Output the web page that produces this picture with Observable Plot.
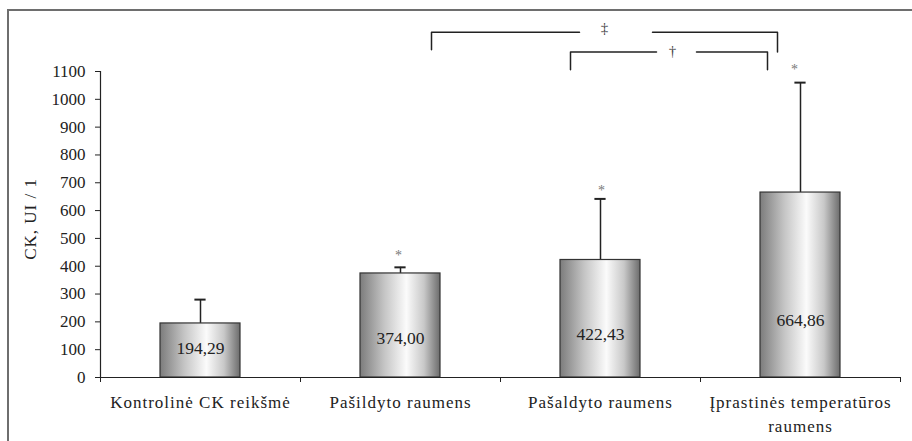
<!DOCTYPE html>
<html>
<head>
<meta charset="utf-8">
<script src="https://cdn.jsdelivr.net/npm/d3@7"></script>
<script src="https://cdn.jsdelivr.net/npm/@observablehq/plot@0.6"></script>
<style>
  html, body { margin: 0; padding: 0; background: #fff; }
  #wrap { position: relative; width: 912px; height: 441px; overflow: hidden; }
  #frame { position: absolute; left: 7px; top: 9px; width: 2000px; height: 2000px;
           border-left: 2px solid #6e6e6e; border-top: 2px solid #6e6e6e; pointer-events: none; }
</style>
</head>
<body>
<div id="wrap"><div id="frame"></div></div>
<script>
// ---- data ----
const categories = ["Kontrolinė CK reikšmė", "Pašildyto raumens", "Pašaldyto raumens", "Įprastinės temperatūros\nraumens"];
const means = [194.29, 374.00, 422.43, 664.86];
const errorTops = [280, 396, 642, 1060];
const valueLabels = ["194,29", "374,00", "422,43", "664,86"];
const valueLabelY = [106, 139, 154, 205];
const asteriskY = [null, 438, 671, 1106];
const asteriskDx = [0, -0.01, 0.005, -0.03];
const yTicks = [0, 100, 200, 300, 400, 500, 600, 700, 800, 900, 1000, 1100];
const xBoundaries = [0, 1, 2, 3, 4];
const yLabel = "CK, UI / 1";
// significance brackets (positions in chart units)
const bracketSymbols = ["‡", "†"];
const bracketX1 = [1.655, 2.35];
const bracketX2 = [3.385, 3.335];
const bracketY = [1241, 1170];
const bracketDropLeft = [1178, 1106];
const bracketDropRight = [1170, 1106];
const bracketGapStart = [2.395, 2.78];
const bracketGapEnd = [2.76, 2.98];
const bracketSymbolX = [2.52, 2.86];
const bracketSymbolY = [1257, 1172];

// ---- build tables ----
const bars = categories.map((c, i) => ({
  i, c, mean: means[i], top: errorTops[i], label: valueLabels[i], ly: valueLabelY[i],
  ay: asteriskY[i], adx: asteriskDx[i]
}));
const bracketPaths = [];
bracketSymbols.forEach((s, k) => {
  bracketPaths.push(
    {z: k + "L", x: bracketX1[k], y: bracketDropLeft[k]},
    {z: k + "L", x: bracketX1[k], y: bracketY[k]},
    {z: k + "L", x: bracketGapStart[k], y: bracketY[k]},
    {z: k + "R", x: bracketGapEnd[k], y: bracketY[k]},
    {z: k + "R", x: bracketX2[k], y: bracketY[k]},
    {z: k + "R", x: bracketX2[k], y: bracketDropRight[k]}
  );
});
const bracketLabels = bracketSymbols.map((s, k) => ({s, x: bracketSymbolX[k], y: bracketSymbolY[k]}));

const ink = "#222";
const serif = "Liberation Serif";
const capHalf = 0.028;

const chart = Plot.plot({
  width: 912,
  height: 441,
  marginLeft: 100,
  marginRight: 12,
  marginTop: 71,
  marginBottom: 64,
  style: {fontSize: "17px", color: ink, background: "transparent"},
  x: {domain: [0, 4], ticks: xBoundaries, tickSize: 5, tickFormat: () => "", label: null},
  y: {domain: [0, 1100], ticks: yTicks, tickSize: 5, tickPadding: 10, tickFormat: d => String(d), label: null},
  marks: [
    Plot.ruleX([0], {y1: 0, y2: 1100, stroke: ink, strokeWidth: 1.2}),
    Plot.ruleX(bars, {x: d => d.i + 0.5, y1: "mean", y2: "top", stroke: ink, strokeWidth: 1.5}),
    Plot.ruleY(bars, {y: "top", x1: d => d.i + 0.5 - capHalf, x2: d => d.i + 0.5 + capHalf, stroke: ink, strokeWidth: 2}),
    Plot.rectY(bars, {x1: d => d.i + 0.3, x2: d => d.i + 0.7, y1: 0, y2: "mean", fill: "url(#barGrad)", stroke: "#333", strokeWidth: 1.2}),
    Plot.ruleY([0], {x1: 0, x2: 4, stroke: ink, strokeWidth: 1.2}),
    Plot.text(bars, {x: d => d.i + 0.5, y: "ly", text: "label", fontSize: 17.5, fill: ink}),
    Plot.text(bars.filter(d => d.ay != null), {x: d => d.i + 0.5 + d.adx, y: "ay", text: () => "*", fontSize: 14, fill: "#777"}),
    Plot.text(bars, {x: d => d.i + 0.5, y: 0, dy: 14, text: "c", lineAnchor: "top", lineHeight: 1.38, fontSize: 17, fill: ink, className: "spaced"}),
    Plot.text([yLabel], {x: 0, y: 570, dx: -70, rotate: -90, text: d => d, fontSize: 17, fill: ink, className: "spaced"}),
    Plot.line(bracketPaths, {x: "x", y: "y", z: "z", stroke: ink, strokeWidth: 1.5, curve: "linear"}),
    Plot.text(bracketLabels, {x: "x", y: "y", text: "s", fontSize: 15, fill: "#444"})
  ]
});

const NS = "http://www.w3.org/2000/svg";
const defs = document.createElementNS(NS, "defs");
const grad = document.createElementNS(NS, "linearGradient");
grad.setAttribute("id", "barGrad");
grad.setAttribute("x1", "0"); grad.setAttribute("x2", "1");
grad.setAttribute("y1", "0"); grad.setAttribute("y2", "0");
[["0%", "#7c7c7c"], ["30%", "#c4c4c4"], ["58%", "#fbfbfb"], ["80%", "#c8c8c8"], ["100%", "#6c6c6c"]].forEach(([o, c]) => {
  const s = document.createElementNS(NS, "stop");
  s.setAttribute("offset", o); s.setAttribute("stop-color", c);
  grad.appendChild(s);
});
defs.appendChild(grad);
chart.insertBefore(defs, chart.firstChild);
chart.setAttribute("font-family", serif);
chart.style.fontFamily = `"${serif}", serif`;
chart.querySelectorAll("g, text, tspan").forEach(el => {
  el.removeAttribute("font-family");
  el.style.fontFamily = `"${serif}", serif`;
});
chart.querySelectorAll(".spaced text, .spaced").forEach(el => { el.style.letterSpacing = "1px"; });
chart.style.position = "absolute";
chart.style.left = "0"; chart.style.top = "0";
document.getElementById("wrap").insertBefore(chart, document.getElementById("frame"));
</script>
</body>
</html>
